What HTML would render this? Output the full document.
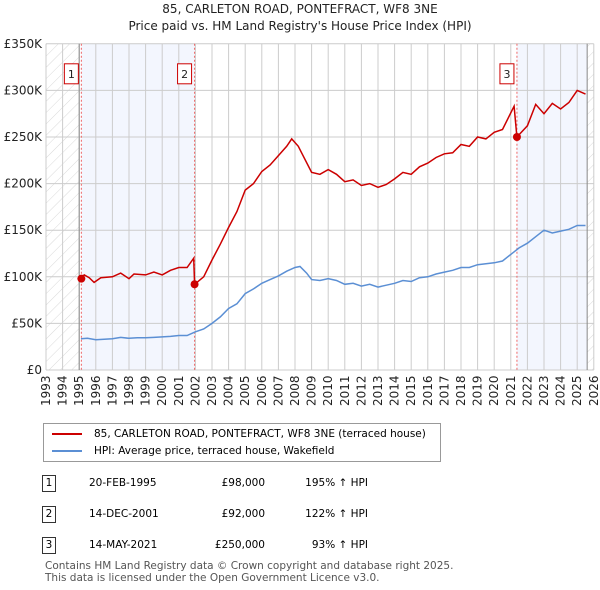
<!DOCTYPE html>
<html><head><meta charset="utf-8"><style>
body{margin:0;background:#fff;font-family:"DejaVu Sans","Liberation Sans",sans-serif;}
#wrap{position:relative;width:600px;height:590px;overflow:hidden;}
.t{position:absolute;font-size:12px;color:#222;}
svg text{font-family:"DejaVu Sans","Liberation Sans",sans-serif;}
</style></head><body>
<div id="wrap">
<div class="t" style="left:0;width:600px;top:1px;text-align:center;font-size:12px;line-height:17px;">85, CARLETON ROAD, PONTEFRACT, WF8 3NE<br>Price paid vs. HM Land Registry's House Price Index (HPI)</div>
<svg id="chart" width="600" height="420" style="position:absolute;left:0;top:0"></svg>
<div style="position:absolute;left:43px;top:423px;width:396px;height:37px;border:1px solid #999;">
 <div style="position:absolute;left:8px;top:4px;font-size:10.5px;white-space:nowrap"><span style="display:inline-block;width:30px;height:2px;background:#cc0000;vertical-align:middle;margin-right:12px"></span>85, CARLETON ROAD, PONTEFRACT, WF8 3NE (terraced house)</div>
 <div style="position:absolute;left:8px;top:21px;font-size:10.5px;white-space:nowrap"><span style="display:inline-block;width:30px;height:2px;background:#5b8fd4;vertical-align:middle;margin-right:12px"></span>HPI: Average price, terraced house, Wakefield</div>
</div>
<div id="tbl"></div>
<div class="t" style="left:45px;top:560px;font-size:10.5px;line-height:12px;color:#555">Contains HM Land Registry data © Crown copyright and database right 2025.<br>This data is licensed under the Open Government Licence v3.0.</div>
</div>
<script>
const years=[1993,1994,1995,1996,1997,1998,1999,2000,2001,2002,2003,2004,2005,2006,2007,2008,2009,2010,2011,2012,2013,2014,2015,2016,2017,2018,2019,2020,2021,2022,2023,2024,2025,2026];
const yTicks=[0,50,100,150,200,250,300,350];
const yTickLabels=["£0","£50K","£100K","£150K","£200K","£250K","£300K","£350K"];
const hpiT=[1995.1,1995.5,1996,1996.5,1997,1997.5,1998,1998.5,1999,1999.5,2000,2000.5,2001,2001.5,2002,2002.5,2003,2003.5,2004,2004.5,2005,2005.5,2006,2006.5,2007,2007.5,2008,2008.3,2008.7,2009,2009.5,2010,2010.5,2011,2011.5,2012,2012.5,2013,2013.5,2014,2014.5,2015,2015.5,2016,2016.5,2017,2017.5,2018,2018.5,2019,2019.5,2020,2020.5,2021,2021.5,2022,2022.5,2023,2023.5,2024,2024.5,2025,2025.5];
const hpiV=[33.5,34,32.5,33,33.5,35,34,34.5,34.5,35,35.5,36,37,37,41,44,50,57,66,71,82,87,93,97,101,106,110,111,104,97,96,98,96,92,93,90,92,89,91,93,96,95,99,100,103,105,107,110,110,113,114,115,117,124,131,136,143,150,147,149,151,155,155];
const redT=[1995.13,1995.3,1995.6,1995.9,1996.3,1997,1997.5,1998,1998.3,1999,1999.5,2000,2000.5,2001,2001.5,2001.9,2001.95,2002.5,2003,2003.5,2004,2004.5,2005,2005.5,2006,2006.5,2007,2007.5,2007.8,2008.2,2008.4,2009,2009.5,2010,2010.5,2011,2011.5,2012,2012.5,2013,2013.5,2014,2014.5,2015,2015.5,2016,2016.5,2017,2017.5,2018,2018.5,2019,2019.5,2020,2020.5,2021.2,2021.37,2022,2022.5,2023,2023.5,2024,2024.5,2025,2025.5];
const redV=[98,102,99,94,99,100,104,98,103,102,105,102,107,110,110,120,92,100,118,135,153,170,193,200,213,220,230,240,248,240,233,212,210,215,210,202,204,198,200,196,199,205,212,210,218,222,228,232,233,242,240,250,248,255,258,283,250,262,285,275,286,280,287,300,296];
const saleT=[1995.13,2001.95,2021.37];
const saleV=[98,92,250];
const saleLabels=["1","2","3"];
const saleDates=["20-FEB-1995","14-DEC-2001","14-MAY-2021"];
const salePrices=["£98,000","£92,000","£250,000"];
const saleHpi=["195% ↑ HPI","122% ↑ HPI","93% ↑ HPI"];
const X0=46,PX=16.6,Y0=370,PY=0.932;
const xs=t=>X0+(t-1993)*PX, ys=v=>Y0-v*PY;
const svg=document.getElementById('chart'),NS="http://www.w3.org/2000/svg";
function mk(tag,at,parent){const e=document.createElementNS(NS,tag);for(const k in at)e.setAttribute(k,at[k]);(parent||svg).appendChild(e);return e;}
const defs=mk('defs',{});
const pat=mk('pattern',{id:'hatch',width:8,height:8,patternUnits:'userSpaceOnUse',patternTransform:'rotate(45)'},defs);
mk('line',{x1:0,y1:0,x2:0,y2:8,stroke:'#d0d0d0','stroke-width':0.8},pat);
let e;
e=mk('rect',{x:xs(1995.13),y:ys(350),width:xs(2001.95)-xs(1995.13),height:350*PY,fill:'#f3f6fe'});

e=mk('rect',{x:xs(2021.37),y:ys(350),width:xs(2025.6)-xs(2021.37),height:350*PY,fill:'#f3f6fe'});

e=mk('rect',{x:X0,y:ys(350),width:xs(1995)-X0,height:350*PY,fill:'url(#hatch)'});

e=mk('rect',{x:xs(2025.6),y:ys(350),width:xs(2026)-xs(2025.6),height:350*PY,fill:'url(#hatch)'});

years.forEach(y=>{const g=mk('line',{x1:xs(y),x2:xs(y),y1:ys(350),y2:Y0,stroke:'#ccc'});

const t=mk('text',{x:0,y:0,transform:`translate(${xs(y)+4},${Y0+36}) rotate(-90)`,'font-size':12,fill:'#222'});t.textContent=y;
});
yTicks.forEach((v,i)=>{const g=mk('line',{x1:X0,x2:xs(2026),y1:ys(v),y2:ys(v),stroke:'#ccc'});

const t=mk('text',{x:X0-4,y:ys(v)+4,'text-anchor':'end','font-size':12,fill:'#222'});t.textContent=yTickLabels[i];
});
e=mk('line',{x1:xs(1995),x2:xs(1995),y1:ys(350),y2:Y0,stroke:'#888'});
e=mk('line',{x1:xs(2025.6),x2:xs(2025.6),y1:ys(350),y2:Y0,stroke:'#888'});
saleT.forEach((t,i)=>{const l=mk('line',{x1:xs(t),x2:xs(t),y1:ys(350),y2:Y0,stroke:'#e66','stroke-dasharray':'2,2'});
});
const pts=(T,V)=>T.map((t,i)=>xs(t).toFixed(1)+','+ys(V[i]).toFixed(1)).join(' ');
e=mk('polyline',{points:pts(hpiT,hpiV),fill:'none',stroke:'#5b8fd4','stroke-width':1.5});

e=mk('polyline',{points:pts(redT,redV),fill:'none',stroke:'#cc0000','stroke-width':1.5});

saleT.forEach((t,i)=>{const c=mk('circle',{cx:xs(t),cy:ys(saleV[i]),r:4,fill:'#cc0000'});

const b=mk('rect',{x:xs(t)-17,y:ys(350)+20,width:14,height:20,fill:'#fff',stroke:'#cc0000'});

const tx=mk('text',{x:xs(t)-10,y:ys(350)+34,'text-anchor':'middle','font-size':11,fill:'#222'});tx.textContent=saleLabels[i];
});
const tbl=document.getElementById('tbl');
const rowsY=[475,506,537];
saleLabels.forEach((s,i)=>{const r=document.createElement('div');


r.style.cssText=`position:absolute;left:0;top:${rowsY[i]}px;width:600px;height:18px;font-size:10.5px;`;
r.innerHTML=`<span style="position:absolute;left:42px;top:0;width:12px;height:15px;border:1px solid #333;text-align:center;line-height:15px">${s}</span><span style="position:absolute;left:89px;top:2px">${saleDates[i]}</span><span style="position:absolute;left:165px;width:100px;text-align:right;top:2px">${salePrices[i]}</span><span style="position:absolute;left:280px;width:88px;text-align:right;top:2px">${saleHpi[i]}</span>`;
tbl.appendChild(r);});
</script>
</body></html>
